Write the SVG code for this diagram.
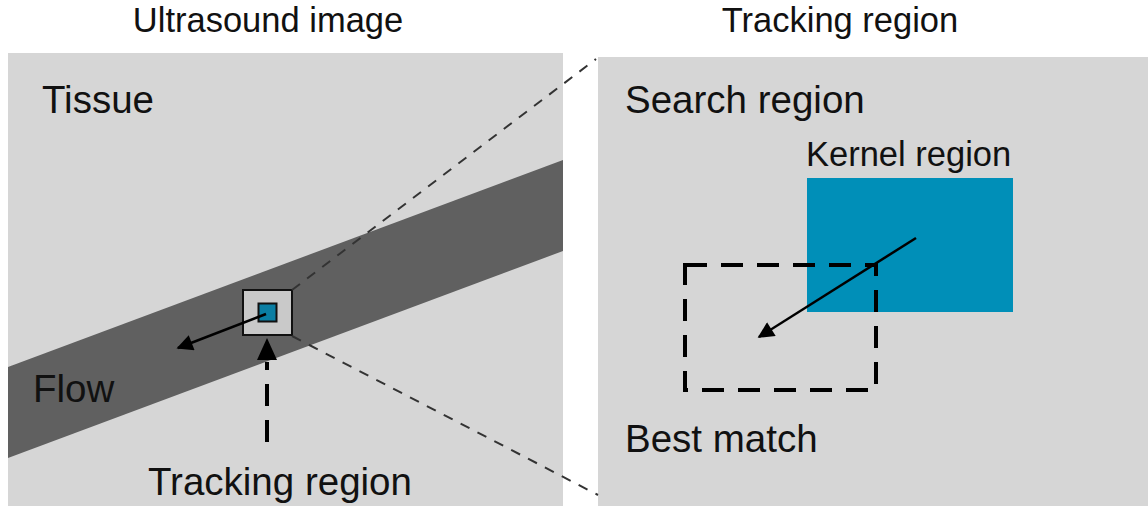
<svg xmlns="http://www.w3.org/2000/svg" width="1148" height="506" viewBox="0 0 1148 506">
  <style>
    text { font-family: "Liberation Sans", Arial, sans-serif; fill: #111; }
    .title { font-size: 34.5px; }
    .label { font-size: 38.5px; }
    .panel { fill: #d6d6d6; }
    .zoom { fill: none; stroke: #333; stroke-width: 2; stroke-dasharray: 10 9; }
    .thick { fill: none; stroke: #000; stroke-width: 4; stroke-dasharray: 22 14; }
    .vec { fill: none; stroke: #000; stroke-width: 2.5; }
  </style>
  <defs>
    <marker id="head" viewBox="0 0 10 10" refX="9" refY="5" markerWidth="8" markerHeight="6.5" markerUnits="strokeWidth" orient="auto">
      <path d="M0,0 L10,5 L0,10 Z" fill="#000"/>
    </marker>
  </defs>

  <text class="title" x="268" y="32" text-anchor="middle">Ultrasound image</text>
  <text class="title" x="840" y="32" text-anchor="middle">Tracking region</text>

  <!-- left panel: ultrasound image -->
  <g id="ultrasound-image">
    <rect class="panel" x="8" y="53" width="555" height="453"/>
    <polygon points="8,367 563,160 563,251 8,458" fill="#606060"/>
    <text class="label" x="42" y="113">Tissue</text>
    <text class="label" x="33" y="402">Flow</text>
  </g>

  <g id="tracking-box">
    <rect x="243" y="290" width="49" height="45" fill="#c9c9c9" stroke="#111" stroke-width="2"/>
    <rect x="258.5" y="303.5" width="18" height="18" fill="#0a7ea3" stroke="#111" stroke-width="2"/>
  </g>

  <text id="tracking-label" class="label" x="148" y="495">Tracking region</text>

  <!-- right panel: magnified tracking region -->
  <g id="tracking-region">
    <rect class="panel" x="598" y="57" width="550" height="449"/>
    <text class="label" x="625" y="113">Search region</text>
  </g>

  <g id="kernel-region">
    <rect x="807" y="178" width="206" height="134" fill="#008fb8"/>
    <text x="806" y="166" font-size="34.5">Kernel region</text>
  </g>

  <g id="best-match">
    <rect class="thick" x="685" y="265" width="191" height="125" stroke-dasharray="20 15"/>
    <text class="label" x="625" y="452">Best match</text>
  </g>

  <!-- connectors -->
  <g id="connectors">
    <line class="zoom" x1="292" y1="290" x2="596" y2="59"/>
    <line class="zoom" x1="292" y1="336" x2="598" y2="495"/>
    <line class="vec" x1="266" y1="314" x2="178" y2="348" marker-end="url(#head)"/>
    <line class="thick" x1="267" y1="442" x2="267" y2="362"/>
    <polygon points="267,338 257,360 277,360" fill="#000"/>
    <line class="vec" x1="916" y1="238" x2="759" y2="337" marker-end="url(#head)"/>
  </g>
</svg>
